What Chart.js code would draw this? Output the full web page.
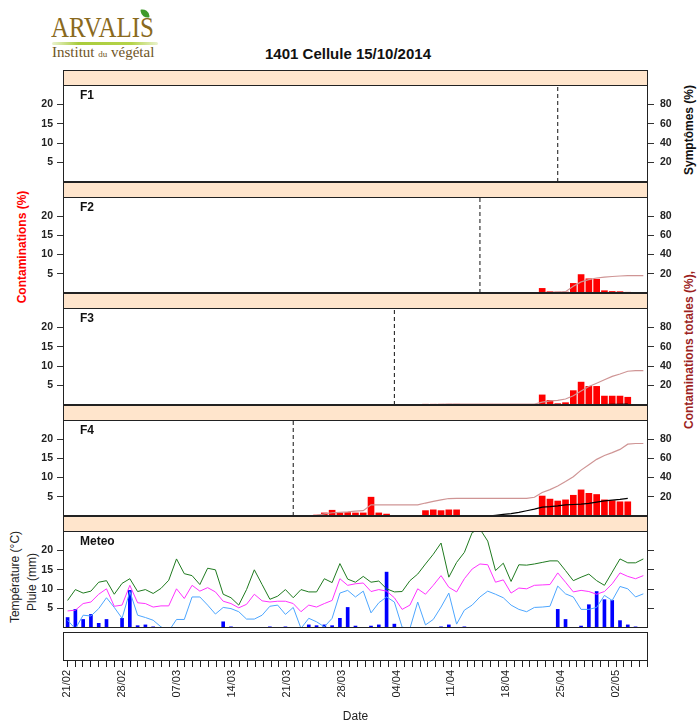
<!DOCTYPE html>
<html>
<head>
<meta charset="utf-8">
<title>1401 Cellule 15/10/2014</title>
<script src="https://cdn.jsdelivr.net/npm/chart.js@4.4.1/dist/chart.umd.min.js"></script>
<style>
  html, body { margin: 0; padding: 0; background: #fff; }
  body { position: relative; width: 697px; height: 726px; overflow: hidden; font-family: "Liberation Sans", Arial, sans-serif; color: #222; }
  .abs { position: absolute; }
  .strip { position: absolute; left: 63px; width: 585px; box-sizing: border-box; background: #ffe5cc; border: 1px solid #222; }
  .vlab { position: absolute; white-space: nowrap; transform: translate(-50%, -50%) rotate(-90deg); }
  canvas { position: absolute; left: 0; }
</style>
</head>
<body>
<!-- logo -->
<div class="abs" style="left:50px;top:4px;width:115px;height:60px;">
  <div class="abs" style="left:91px;top:5px;width:8px;height:9px;background:#3f9a2b;border-radius:1px 8px 1px 8px;transform:rotate(-8deg);"></div>
  <div class="abs" style="left:1px;top:9px;font-family:'Liberation Serif','DejaVu Serif',serif;font-size:29px;line-height:29px;color:#8a6a1e;transform:scaleX(0.86);transform-origin:0 0;">ARVALIS</div>
  <div class="abs" style="left:2px;top:38px;width:106px;height:3px;border-radius:2px;background:linear-gradient(90deg,rgba(170,205,60,0.25),#a9cc3c 25%,#b5d44a 75%,rgba(170,205,60,0.25));"></div>
  <div class="abs" style="left:2px;top:40px;font-family:'Liberation Serif',serif;font-size:15px;line-height:17px;color:#6e5526;white-space:nowrap;">Institut <span style="font-size:9px">du</span> végétal</div>
</div>

<div class="abs" style="left:348px;top:45px;transform:translateX(-50%);font-weight:bold;font-size:15px;line-height:17px;white-space:nowrap;color:#111;">1401 Cellule 15/10/2014</div>

<div class="vlab" style="left:22px;top:247px;color:#ff0000;font-weight:bold;font-size:12px;">Contaminations (%)</div>
<div class="vlab" style="left:689px;top:130px;color:#111;font-weight:bold;font-size:12px;">Symptômes (%)</div>
<div class="vlab" style="left:689px;top:350px;color:#9c1f1f;font-weight:bold;font-size:12px;">Contaminations totales (%),</div>
<div class="vlab" style="left:15px;top:577px;font-size:12px;">Température (°C)</div>
<div class="vlab" style="left:32px;top:582px;font-size:12px;">Pluie (mm)</div>

<div id="panels"></div>

<script>
// day 0 = 21/02/2014, one tick per day up to 06/05
const DATE_LABELS = ["21/02", "28/02", "07/03", "14/03", "21/03", "28/03", "04/04", "11/04", "18/04", "25/04", "02/05"];
const LAST_DAY = 74;
const LEFT_TICKS = [5, 10, 15, 20];
const RIGHT_TICKS = [20, 40, 60, 80];

const range = (a, b) => Array.from({ length: b - a + 1 }, (_, i) => a + i);

// leaves
const LEAVES = ["F1", "F2", "F3", "F4"];
const emergence = [63, 53, 42, 29];

// F2
const f2Days = range(61, 72);
const f2Contam = [1.2, 0.35, 0.25, 0.25, 2.5, 4.8, 3.7, 3.6, 0.6, 0.4, 0.35, 0.2];
const f2TotalDays = range(61, 74);
const f2Total = [0.4, 0.7, 1.0, 1.4, 7.1, 11.6, 13.9, 15.6, 16.5, 17.2, 17.7, 18, 18, 18];

// F3
const f3Days = [46, 47, 48, 49, 50].concat(range(61, 72));
const f3Contam = [0.2, 0.2, 0.2, 0.2, 0.2, 2.6, 1.2, 0.35, 0.6, 3.7, 5.9, 4.8, 4.8, 2.3, 2.3, 2.3, 2.0];
const f3TotalDays = range(46, 74);
const f3Total = [0.2, 0.4, 0.6, 0.8, 1.0, 1, 1, 1, 1, 1, 1, 1, 1, 1, 1,
  3, 4.3, 4.8, 6.2, 9.5, 14.5, 19, 22.5, 26, 29.5, 32, 34.8, 35.4, 35.4];
const f3SymDays = range(66, 72);
const f3Sym = [0, 0.3, 0.4, 0.5, 0.6, 0.7, 0.8];

// F4
const f4Days = range(32, 41).concat(range(46, 50), range(61, 72));
const f4Contam = [0.25, 0.8, 1.5, 0.8, 0.9, 0.8, 0.8, 4.9, 0.8, 0.5,
  1.4, 1.6, 1.4, 1.6, 1.6,
  5.2, 4.4, 3.9, 4.2, 5.4, 6.8, 5.9, 5.6, 4.2, 4.0, 3.7, 3.7];
const f4TotalDays = range(31, 74);
const f4Total = [0, 0.8, 2.2, 3.4, 3.8, 4.3, 5.0, 5.6, 11.6, 11.6,
  11.6, 11.6, 11.6, 11.6, 11.6, 13.5, 15.2, 16.8, 18.2, 18.4,
  18.4, 18.4, 18.4, 18.4, 18.4, 18.4, 18.4, 18.4, 18.4, 19.5,
  24.5, 27.5, 31.3, 36, 41, 47.8, 53.5, 59, 63, 66, 69.4, 74.8, 75.5, 75.5];
const f4SymDays = range(52, 72);
const f4Sym = [0, 0, 0, 0.8, 1.7, 2.5, 3.8, 5.5, 7.2, 9.2, 9.7, 10.5, 11.5, 12, 12.3, 13.2, 14.5, 15.7, 16.5, 17.3, 18.4];

// meteo, one value per day (0..74)
const tmax = [7.1, 9.9, 9.0, 9.5, 11.8, 12.2, 8.7, 11.5, 12.7, 9.4,
  9.9, 8.9, 10.2, 12.3, 17.8, 14.0, 13.5, 11.2, 15.4, 15.0,
  8.7, 7.8, 5.9, 9.9, 15.0, 11.2, 7.4, 8.2, 9.9, 7.8,
  9.9, 9.3, 9.3, 12.7, 11.7, 16.6, 12.6, 11.8, 13.3, 11.8,
  12.1, 10.1, 9.3, 9.4, 12.2, 13.9, 16.5, 19.0, 21.9, 13.1,
  16.9, 19.5, 24.6, 25.5, 22.4, 14.8, 16.7, 12.0, 16.3, 16.2,
  16.5, 16.9, 17.3, 17.3, 14.8, 12.2, 13.1, 13.9, 12.2, 11.0,
  14.4, 17.8, 16.8, 16.8, 17.8];
const tmean = [4.4, 4.6, 6.3, 6.7, 8.7, 10.1, 5.6, 5.9, 11.0, 6.5,
  6.3, 5.4, 5.7, 5.7, 10.1, 7.6, 11.0, 9.5, 10.4, 9.3,
  6.9, 6.3, 5.2, 6.1, 8.7, 7.0, 6.7, 6.9, 6.9, 6.3,
  4.2, 5.9, 5.4, 6.3, 7.1, 12.7, 11.0, 11.4, 11.6, 9.4,
  9.9, 9.5, 7.8, 4.8, 5.9, 10.1, 8.7, 11.0, 13.5, 10.5,
  9.3, 12.7, 15.2, 16.5, 16.3, 11.8, 12.4, 9.0, 10.3, 10.1,
  11.0, 11.1, 11.2, 14.2, 11.8, 9.3, 9.7, 9.4, 8.7, 9.4,
  11.4, 14.2, 13.3, 12.7, 13.5];
const tmin = [2.0, -0.2, 3.3, 3.1, 5.0, 7.8, 5.3, 2.5, 9.4, 3.3,
  2.7, 2.0, 0.3, -0.8, 2.2, 2.2, 8.0, 8.0, 5.9, 3.6,
  5.3, 5.0, 4.2, 2.3, 2.3, 3.3, 5.6, 5.9, 3.5, 5.3,
  -0.1, 2.5, 1.6, 0.3, 2.5, 9.0, 9.7, 8.0, 9.5, 3.9,
  6.5, 8.0, 6.7, 0.2, -0.1, 6.7, 0.8, 2.2, 5.4, 9.0,
  1.0, 4.6, 5.9, 8.0, 9.5, 8.7, 7.8, 5.9, 4.8, 4.2,
  5.3, 5.4, 5.6, 10.8, 8.8, 8.0, 4.8, 4.8, 5.3, 8.4,
  7.1, 10.7, 10.1, 8.0, 8.8];
const rain = [2.7, 4.8, 2.2, 3.5, 1.2, 2.2, 0, 2.5, 9.7, 0.6,
  0.8, 0.3, 0, 0, 0, 0, 0, 0, 0, 0,
  1.6, 0.3, 0, 0, 0, 0, 0.3, 0, 0.3, 0,
  0, 0.8, 0.6, 0.8, 0.6, 2.5, 5.3, 0.5, 0, 0.5,
  0.8, 14.4, 1.0, 0, 0, 0, 0, 0, 0.3, 0.8,
  0, 0.3, 0, 0, 0, 0, 0, 0, 0, 0,
  0, 0, 0, 4.8, 2.2, 0, 0.5, 6.0, 9.4, 7.3,
  7.1, 1.9, 0.8, 0.3, 0];

// ---------------------------------------------------------------
const leafData = [
  {},
  { days: f2Days, contam: f2Contam, totalDays: f2TotalDays, total: f2Total },
  { days: f3Days, contam: f3Contam, totalDays: f3TotalDays, total: f3Total, symDays: f3SymDays, sym: f3Sym },
  { days: f4Days, contam: f4Contam, totalDays: f4TotalDays, total: f4Total, symDays: f4SymDays, sym: f4Sym },
];
const dayIndex = range(0, LAST_DAY);
const pts = (xs, ys) => xs.map((x, i) => ({ x: x, y: ys[i] }));

Chart.defaults.font.family = '"Liberation Sans", Arial, sans-serif';
Chart.defaults.color = '#222';

// layout of the lattice
const FRAME_TOP = 70, STRIP_H = 15, PANEL_H = 96.6;
const LEFT_W = 63, RIGHT_W = 49, PAGE_W = 697;
const X_MIN = -0.59, X_MAX = 74.6;        // data panels
const AX_MIN = -0.55, AX_MAX = 74.07;     // date axis box

const panelFrame = {
  id: 'panelFrame',
  afterDatasetsDraw(chart, args, opts) {
    const { ctx, chartArea: a } = chart;
    ctx.save();
    ctx.strokeStyle = '#222';
    ctx.lineWidth = 1;
    ctx.strokeRect(Math.round(a.left) + 0.5, Math.round(a.top) + 0.5, Math.round(a.width) - 1, Math.round(a.height) - 1);
    if (opts.label) {
      ctx.fillStyle = '#111';
      ctx.font = 'bold 12px "Liberation Sans", Arial, sans-serif';
      ctx.textBaseline = 'middle';
      ctx.fillText(opts.label, a.left + 17, a.top + 11);
    }
    ctx.restore();
  }
};

function yAxis(position, max, ticks, showLabels) {
  return {
    position: position,
    min: 0,
    max: max,
    afterFit: (s) => {
      s.width = position === 'left' ? LEFT_W : RIGHT_W;
      // no tick sits on the panel edges, so no label overhang to reserve
      s.paddingTop = 0;
      s.paddingBottom = 0;
    },
    afterBuildTicks: (s) => { s.ticks = ticks.map(v => ({ value: v })); },
    grid: { drawOnChartArea: false, drawTicks: true, tickLength: 6, color: '#333' },
    border: { display: false },
    ticks: {
      padding: position === 'left' ? 4 : 6,
      color: '#222',
      font: { size: 10.5, weight: 'bold' },
      callback: (v) => showLabels ? v : ''
    }
  };
}

function addCanvas(top, height) {
  const c = document.createElement('canvas');
  c.width = PAGE_W;
  c.height = height;
  c.style.top = top + 'px';
  c.style.width = PAGE_W + 'px';
  c.style.height = height + 'px';
  document.getElementById('panels').appendChild(c);
  return c;
}

function addStrip(top, bottom) {
  const d = document.createElement('div');
  d.className = 'strip';
  d.style.top = top + 'px';
  d.style.height = (bottom - top + 1) + 'px';
  document.getElementById('panels').appendChild(d);
}

function panelChart(i, label, datasets, rightLabels) {
  const stripTop = Math.round(FRAME_TOP + i * (STRIP_H + PANEL_H));
  const pTop = Math.round(FRAME_TOP + i * (STRIP_H + PANEL_H) + STRIP_H);
  const pBot = Math.round(FRAME_TOP + i * (STRIP_H + PANEL_H) + STRIP_H + PANEL_H);
  addStrip(stripTop, pTop);
  const canvas = addCanvas(pTop - 1, pBot - pTop + 2);
  return new Chart(canvas, {
    type: 'bar',
    data: { datasets: datasets },
    options: {
      responsive: false,
      animation: false,
      events: [],
      devicePixelRatio: 1,
      layout: { padding: { top: 1, bottom: 1, left: 0, right: 0 } },
      scales: {
        x: { type: 'linear', min: X_MIN, max: X_MAX, offset: false, display: false },
        y: yAxis('left', 25, LEFT_TICKS, true),
        y2: rightLabels ? yAxis('right', 100, RIGHT_TICKS, true) : yAxis('right', 25, LEFT_TICKS, false)
      },
      plugins: {
        legend: { display: false },
        tooltip: { enabled: false },
        panelFrame: { label: label }
      }
    },
    plugins: [panelFrame]
  });
}

// leaf panels F1..F4
LEAVES.forEach((leaf, i) => {
  const d = leafData[i];
  const ds = [];
  ds.push({
    type: 'line', data: [{ x: emergence[i], y: 0 }, { x: emergence[i], y: 25 }],
    borderColor: '#111', borderWidth: 1, borderDash: [4, 3], pointRadius: 0, yAxisID: 'y', order: 0, clip: 0
  });
  if (d.sym) {
    ds.push({
      type: 'line', data: pts(d.symDays, d.sym), borderColor: '#000', borderWidth: 1.2,
      pointRadius: 0, yAxisID: 'y2', order: 0, clip: 0
    });
  }
  if (d.total) {
    ds.push({
      type: 'line', data: pts(d.totalDays, d.total), borderColor: '#cf9595', borderWidth: 1.2,
      pointRadius: 0, yAxisID: 'y2', order: 0, clip: 0
    });
  }
  if (d.contam) {
    ds.push({
      type: 'bar', data: pts(d.days, d.contam), backgroundColor: '#ff0000', borderWidth: 0,
      barThickness: 6, yAxisID: 'y', order: 1
    });
  }
  panelChart(i, leaf, ds, true);
});

// meteo panel
panelChart(4, 'Meteo', [
  { type: 'line', data: pts(dayIndex, tmax), borderColor: '#1f7a1f', borderWidth: 1, pointRadius: 0, yAxisID: 'y', order: 0, clip: 0 },
  { type: 'line', data: pts(dayIndex, tmean), borderColor: '#ff33ff', borderWidth: 1, pointRadius: 0, yAxisID: 'y', order: 0, clip: 0 },
  { type: 'line', data: pts(dayIndex, tmin), borderColor: '#4da6ff', borderWidth: 1, pointRadius: 0, yAxisID: 'y', order: 0, clip: 0 },
  { type: 'bar', data: pts(dayIndex, rain), backgroundColor: '#0000ff', borderWidth: 0, barThickness: 3, yAxisID: 'y', order: 1 }
], false);

// date axis box
const dateCanvas = addCanvas(630, 96);
new Chart(dateCanvas, {
  type: 'line',
  data: { datasets: [] },
  options: {
    responsive: false,
    animation: false,
    events: [],
    devicePixelRatio: 1,
    layout: { padding: { top: 2, bottom: 0, left: LEFT_W, right: RIGHT_W } },
    scales: {
      x: {
        type: 'linear', min: AX_MIN, max: AX_MAX, position: 'bottom', offset: false,
        afterBuildTicks: (s) => { s.ticks = dayIndex.map(v => ({ value: v })); },
        afterFit: (s) => { s.height = 65; },
        grid: { drawOnChartArea: false, drawTicks: true, tickLength: 6, color: '#222' },
        border: { display: false },
        ticks: {
          autoSkip: false, minRotation: 90, maxRotation: 90, padding: 3,
          color: '#222', font: { size: 11 },
          callback: (v) => (v % 7 === 0 ? DATE_LABELS[v / 7] : '')
        },
        title: { display: true, text: 'Date', color: '#222', font: { size: 12 }, padding: { top: 4, bottom: 2 } }
      },
      y: { display: false, min: 0, max: 1 }
    },
    plugins: {
      legend: { display: false },
      tooltip: { enabled: false },
      panelFrame: {}
    }
  },
  plugins: [panelFrame]
});
</script>
</body>
</html>
